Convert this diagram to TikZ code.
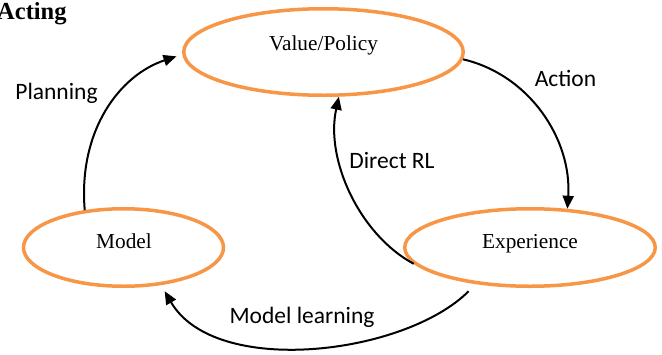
\documentclass[tikz,border=0pt]{standalone}
\usepackage{fontspec}
\setmainfont{Liberation Serif}
\newfontfamily\calib{Carlito}
\usetikzlibrary{shapes.geometric,arrows.meta}
\definecolor{orng}{HTML}{F79646}
\tikzset{
  state/.style={ellipse, draw=orng, line width=3.5pt, inner sep=0pt},
  statetext/.style={anchor=base, inner sep=0pt, font=\fontsize{21.3}{25}\selectfont},
  edgetext/.style={anchor=base, inner sep=0pt, font=\calib\fontsize{23.5}{28}\selectfont},
  conn/.style={line width=2pt, -{Triangle[length=13pt,width=11pt]}},
}
\begin{document}
\begin{tikzpicture}[x=1pt,y=-1pt]
\useasboundingbox (0,0) rectangle (662,354);
\node[anchor=base west, inner sep=0pt, font=\bfseries\fontsize{24.5}{29}\selectfont] (acting) at (-3,19) {Acting};
\node[state, minimum width=279.5pt, minimum height=86.5pt] (vp) at (323.5,52) {};
\node[state, minimum width=200pt, minimum height=77.5pt] (mo) at (123.5,247.5) {};
\node[state, minimum width=250.5pt, minimum height=77.5pt] (ex) at (530,247.5) {};
\node[statetext] (vpt) at (323.5,50) {Value/Policy};
\node[statetext] (mot) at (124,248) {Model};
\node[statetext] (ext) at (530,248) {Experience};
% connectors
\draw[conn, shorten >=6pt] (mo.136) .. controls (78,130) and (120,75) .. (vp.181);
\draw[conn] (vp.-3) .. controls (530,75) and (572,140) .. (ex.46);
\draw[conn] (ex.188) .. controls (360,235) and (325,160) .. (vp.-71);
\draw[conn, shorten <=10pt, shorten >=7pt] (ex.214) .. controls (405,355) and (215,378) .. (mo.-45);
% labels
\node[edgetext] (lp) at (56.5,99) {Planning};
\node[edgetext] (la) at (565.5,86) {Action};
\node[edgetext] (ld) at (392,168) {Direct RL};
\node[edgetext] (lm) at (302,323) {Model learning};
\end{tikzpicture}
\end{document}
